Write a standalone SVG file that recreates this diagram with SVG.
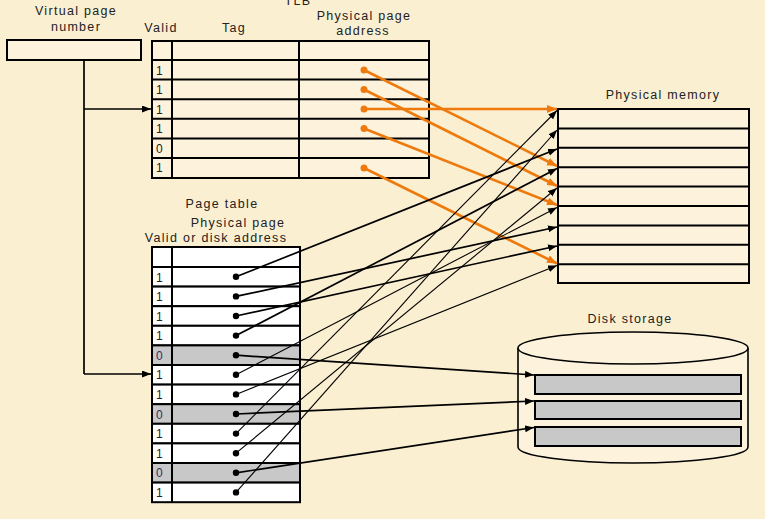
<svg xmlns="http://www.w3.org/2000/svg" width="765" height="519" viewBox="0 0 765 519">
<style>
  text { font-family: "Liberation Sans", Arial, sans-serif; font-size: 12.5px; fill: #222; letter-spacing: 1.3px; }
  .lbl { text-anchor: middle; }
  .cell { font-size: 12px; letter-spacing: 0; }
  .zero { fill: #3a2c5e; }
  .tbl { fill: #fdf3dc; stroke: #000; stroke-width: 2; }
  .wrow { fill: #ffffff; stroke: #000; stroke-width: 2; }
  .grow { fill: #c8c8c8; stroke: #000; stroke-width: 2; }
  .grid { stroke: #000; stroke-width: 2; fill: none; }
  .or { stroke: #ee7a0e; stroke-width: 2.6; fill: none; marker-end: url(#ao); }
  .bk { stroke: #000; stroke-width: 1.7; fill: none; marker-end: url(#ab); }
  .bt { stroke: #000; stroke-width: 1.1; fill: none; marker-end: url(#ab); }
  .dotb { fill: #000; }
  .doto { fill: #ee7a0e; }
</style>
<defs>
  <marker id="ab" markerUnits="userSpaceOnUse" markerWidth="10" markerHeight="8" refX="9" refY="3.5" orient="auto">
    <path d="M0,0 L9,3.5 L0,7 z" fill="#000"/>
  </marker>
  <marker id="ao" markerUnits="userSpaceOnUse" markerWidth="12" markerHeight="10" refX="10" refY="4" orient="auto">
    <path d="M0,0 L10,4 L0,8 z" fill="#ee7a0e"/>
  </marker>
</defs>
<rect x="0" y="0" width="765" height="519" fill="#fbefd1"/>

<g id="tlb-title"><text class="lbl" x="298" y="5">TLB</text></g>

<g id="vpn">
  <text class="lbl" x="76" y="15">Virtual page</text>
  <text class="lbl" x="76" y="31">number</text>
  <rect class="tbl" x="7" y="40" width="134" height="20"/>
</g>

<g id="tlb">
  <text class="lbl" x="161" y="32">Valid</text>
  <text class="lbl" x="234" y="32">Tag</text>
  <text class="lbl" x="364" y="20">Physical page</text>
  <text class="lbl" x="363" y="35">address</text>
  <rect class="tbl" x="152" y="41" width="277" height="137"/>
  <path class="grid" d="M172,41 V178 M299,41 V178 M152,60 H429 M152,79.6 H429 M152,99.2 H429 M152,118.8 H429 M152,138.4 H429 M152,158 H429"/>
  <text class="cell" x="156" y="75">1</text>
  <text class="cell" x="156" y="94">1</text>
  <text class="cell" x="156" y="114">1</text>
  <text class="cell" x="156" y="133">1</text>
  <text class="cell" x="156" y="153">0</text>
  <text class="cell" x="156" y="172">1</text>
  <circle class="doto" cx="364" cy="70" r="3.5"/>
  <circle class="doto" cx="364" cy="89.5" r="3.5"/>
  <circle class="doto" cx="364" cy="109" r="3.5"/>
  <circle class="doto" cx="364" cy="128.5" r="3.5"/>
  <circle class="doto" cx="364" cy="168" r="3.5"/>
</g>

<g id="page-table">
  <text class="lbl" x="222" y="208">Page table</text>
  <text class="lbl" x="238" y="227">Physical page</text>
  <text class="lbl" x="216" y="242">Valid or disk address</text>
  <rect class="wrow" x="152" y="247" width="148" height="20"/>
  <rect class="wrow" x="152" y="267" width="148" height="19.6"/>
  <rect class="wrow" x="152" y="286.6" width="148" height="19.6"/>
  <rect class="wrow" x="152" y="306.2" width="148" height="19.6"/>
  <rect class="wrow" x="152" y="325.8" width="148" height="19.6"/>
  <rect class="grow" x="152" y="345.4" width="148" height="19.6"/>
  <rect class="wrow" x="152" y="365" width="148" height="19.6"/>
  <rect class="wrow" x="152" y="384.6" width="148" height="19.6"/>
  <rect class="grow" x="152" y="404.2" width="148" height="19.6"/>
  <rect class="wrow" x="152" y="423.8" width="148" height="19.6"/>
  <rect class="wrow" x="152" y="443.4" width="148" height="19.6"/>
  <rect class="grow" x="152" y="463" width="148" height="19.6"/>
  <rect class="wrow" x="152" y="482.6" width="148" height="19.6"/>
  <path class="grid" d="M172,247 V502.2"/>
  <text class="cell" x="156" y="282">1</text>
  <text class="cell" x="156" y="301">1</text>
  <text class="cell" x="156" y="321">1</text>
  <text class="cell" x="156" y="340">1</text>
  <text class="cell zero" x="156" y="360">0</text>
  <text class="cell" x="156" y="379">1</text>
  <text class="cell" x="156" y="399">1</text>
  <text class="cell zero" x="156" y="419">0</text>
  <text class="cell" x="156" y="438">1</text>
  <text class="cell" x="156" y="458">1</text>
  <text class="cell zero" x="156" y="477">0</text>
  <text class="cell" x="156" y="497">1</text>
  <circle class="dotb" cx="236" cy="276.8" r="3.2"/>
  <circle class="dotb" cx="236" cy="296.4" r="3.2"/>
  <circle class="dotb" cx="236" cy="316" r="3.2"/>
  <circle class="dotb" cx="236" cy="335.6" r="3.2"/>
  <circle class="dotb" cx="236" cy="355.2" r="3.2"/>
  <circle class="dotb" cx="236" cy="374.8" r="3.2"/>
  <circle class="dotb" cx="236" cy="394.4" r="3.2"/>
  <circle class="dotb" cx="236" cy="414" r="3.2"/>
  <circle class="dotb" cx="236" cy="433.6" r="3.2"/>
  <circle class="dotb" cx="236" cy="453.2" r="3.2"/>
  <circle class="dotb" cx="236" cy="472.8" r="3.2"/>
  <circle class="dotb" cx="236" cy="492.4" r="3.2"/>
</g>

<g id="physical-memory">
  <text class="lbl" x="663" y="99">Physical memory</text>
  <rect class="tbl" x="558" y="109" width="191" height="174"/>
  <path class="grid" d="M558,128.4 H749 M558,147.8 H749 M558,167.2 H749 M558,186.6 H749 M558,206 H749 M558,225.4 H749 M558,244.8 H749 M558,264.2 H749"/>
</g>

<g id="disk-storage">
  <text class="lbl" x="630" y="323">Disk storage</text>
  <path d="M518,348 V447 A115,16 0 0 0 748,447 V348" fill="#fdf3dc" stroke="#000" stroke-width="1.6"/>
  <ellipse cx="633" cy="348" rx="115" ry="16" fill="#fdf3dc" stroke="#000" stroke-width="1.6"/>
  <rect class="grow" x="535" y="375" width="206" height="19"/>
  <rect class="grow" x="535" y="401" width="206" height="18"/>
  <rect class="grow" x="535" y="427" width="206" height="19"/>
</g>

<g id="connectors">
  <path d="M84,60 V374" stroke="#000" stroke-width="1.7" fill="none"/>
  <path class="bk" d="M84,109 H151"/>
  <path class="bk" d="M84,374 H151"/>

  <path class="or" d="M364,70 L557,166"/>
  <path class="or" d="M364,89.5 L557,186"/>
  <path class="or" d="M364,109 L557,109"/>
  <path class="or" d="M364,128.5 L557,205"/>
  <path class="or" d="M364,168 L557,263.5"/>

  <path class="bk" d="M236,276.8 L557,149"/>
  <path class="bk" d="M236,296.4 L557,227"/>
  <path class="bk" d="M236,316 L557,246"/>
  <path class="bk" d="M236,335.6 L557,168.5"/>
  <path class="bt" d="M236,374.8 L557,207.5"/>
  <path class="bt" d="M236,394.4 L557,265.5"/>
  <path class="bt" d="M236,433.6 L557,110.5"/>
  <path class="bt" d="M236,453.2 L557,188"/>
  <path class="bt" d="M236,492.4 L557,130"/>

  <path class="bk" d="M236,355.2 L534,375"/>
  <path class="bk" d="M236,414 L534,401"/>
  <path class="bk" d="M236,472.8 L534,427.5"/>
</g>
</svg>
